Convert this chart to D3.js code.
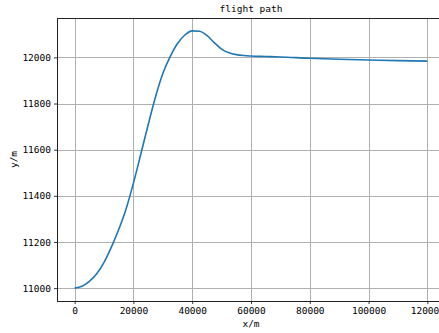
<!DOCTYPE html>
<html>
<head>
<meta charset="utf-8">
<script src="https://cdn.jsdelivr.net/npm/d3@7"></script>
<style>
  html, body { margin: 0; padding: 0; background: #fff; overflow: hidden; }
  svg { display: block; }
  text { font-family: "DejaVu Sans Mono", "Liberation Mono", monospace; fill: #000; }
</style>
</head>
<body>
<svg id="chart" width="439" height="333"></svg>
<script>
// Horizontal distance along the path (m)
const xValues = [0, 2500, 5000, 7500, 10000, 12500, 15000, 17500, 20000, 22500,
  25000, 27500, 30000, 32500, 35000, 37500, 40000, 42500, 45000, 47500,
  50000, 52500, 55000, 57500, 60000, 65000, 70000, 80000, 90000, 100000,
  110000, 120000];
// Altitude at each distance (m)
const yValues = [11000, 11008, 11029, 11062, 11112, 11178, 11254, 11343, 11455, 11580,
  11707, 11828, 11930, 12003, 12060, 12097, 12115, 12113, 12095, 12064,
  12036, 12020, 12012, 12008, 12006, 12004, 12002, 11996, 11992, 11989,
  11986, 11984];
const xTicks = [0, 20000, 40000, 60000, 80000, 100000, 120000];
const yTicks = [11000, 11200, 11400, 11600, 11800, 12000];
const titleText = "flight path";
const xLabel = "x/m";
const yLabel = "y/m";

const svg = d3.select("#chart");
const plotLeft = 57, plotRight = 445, plotTop = 18, plotBottom = 301;

const xMin = d3.min(xValues), xMax = d3.max(xValues);
const yMin = d3.min(yValues), yMax = d3.max(yValues);
const xPad = (xMax - xMin) * 0.05, yPad = (yMax - yMin) * 0.05;

const x = d3.scaleLinear().domain([xMin - xPad, xMax + xPad]).range([plotLeft, plotRight]);
const y = d3.scaleLinear().domain([yMin - yPad, yMax + yPad]).range([plotBottom, plotTop]);

// grid
const grid = svg.append("g").attr("stroke", "#b0b0b0").attr("stroke-width", 1);
grid.selectAll(".gx").data(xTicks).join("line")
  .attr("x1", d => Math.round(x(d)) + 0.5).attr("x2", d => Math.round(x(d)) + 0.5)
  .attr("y1", plotTop).attr("y2", plotBottom);
grid.selectAll(".gy").data(yTicks).join("line")
  .attr("y1", d => Math.round(y(d)) + 0.5).attr("y2", d => Math.round(y(d)) + 0.5)
  .attr("x1", plotLeft).attr("x2", plotRight);

// axes
const xAxis = d3.axisBottom(x).tickValues(xTicks).tickSize(3).tickPadding(3).tickFormat(d3.format("d"));
const yAxis = d3.axisLeft(y).tickValues(yTicks).tickSize(3).tickPadding(3).tickFormat(d3.format("d"));

const gx = svg.append("g").attr("transform", `translate(0,${plotBottom})`).call(xAxis);
const gy = svg.append("g").attr("transform", `translate(${plotLeft},0)`).call(yAxis);
[gx, gy].forEach(g => {
  g.select(".domain").remove();
  g.selectAll("line").attr("stroke", "#000").attr("stroke-width", 0.8);
  g.selectAll("text").attr("font-size", 9.5).attr("font-family", "DejaVu Sans Mono, monospace");
});

// line
const line = d3.line()
  .x((d, i) => x(xValues[i]))
  .y(d => y(d))
  .curve(d3.curveMonotoneX);
svg.append("path")
  .datum(yValues)
  .attr("fill", "none")
  .attr("stroke", "#1f77b4")
  .attr("stroke-width", 1.6)
  .attr("d", line);

// frame
svg.append("rect")
  .attr("x", plotLeft + 0.5).attr("y", plotTop + 0.5)
  .attr("width", plotRight - plotLeft).attr("height", plotBottom - plotTop)
  .attr("fill", "none").attr("stroke", "#222").attr("stroke-width", 1);

// labels
svg.append("text").attr("x", (plotLeft + plotRight) / 2).attr("y", 12)
  .attr("text-anchor", "middle").attr("font-size", 9.5).text(titleText);
svg.append("text").attr("x", (plotLeft + plotRight) / 2).attr("y", 327)
  .attr("text-anchor", "middle").attr("font-size", 9.5).text(xLabel);
svg.append("text")
  .attr("transform", `translate(17,${(plotTop + plotBottom) / 2}) rotate(-90)`)
  .attr("text-anchor", "middle").attr("font-size", 9.5).text(yLabel);
</script>
</body>
</html>
